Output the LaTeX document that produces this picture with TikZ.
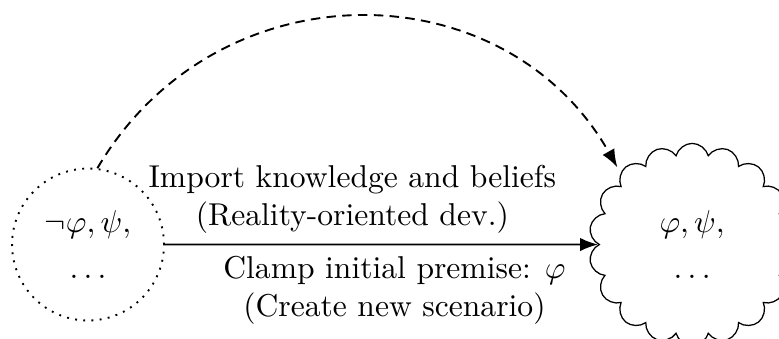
\documentclass[tikz,border=0pt]{standalone}
\usetikzlibrary{arrows.meta,shapes.symbols}
\begin{document}
\begin{tikzpicture}[semithick]
	\useasboundingbox (-0.979,-1.040) rectangle (7.686,2.720);
	\node[draw,circle,dotted,minimum size=1.69cm,align=center] (w0) at (0,0) {$\neg\varphi, \psi,$\\[1mm] $\ldots$};
	\node[draw,thin,cloud,cloud puffs=18,cloud ignores aspect,minimum width=2.3cm,minimum height=2.25cm,align=center] (w1) at (6.72,0) {$\varphi, \psi,$\\[1mm] $\ldots$};
	
	\draw[-Latex] (w0) -- (w1) node [pos=0.53, below, align=center] {Clamp initial premise: $\varphi$\\ (Create new scenario)};
	\draw[dash pattern=on 3pt off 2pt,-Latex,shorten >=2pt] (w0.83) to[bend left=60, looseness=1.15] (w1.135);
	\node[align=center] (import) at (2.94,0.5) {Import knowledge and beliefs\\ (Reality-oriented dev.)};
\end{tikzpicture}
\end{document}
